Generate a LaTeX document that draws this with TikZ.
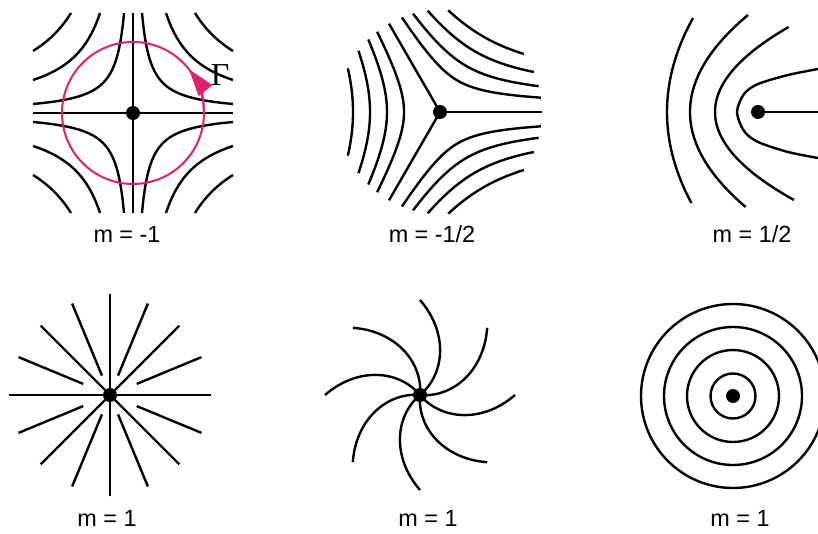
\documentclass[tikz,border=0pt]{standalone}
\usepackage{fontspec}
\setmainfont{Liberation Sans}
\newfontfamily\gammafont{Liberation Serif}
\usepackage{xcolor}
\usetikzlibrary{arrows.meta}
\definecolor{loopred}{RGB}{230,30,110}

\begin{document}
\begin{tikzpicture}[x=1pt, y=1pt,
    fieldline/.style={line width=2.4pt},
    core/.style={circle, fill=black, inner sep=0pt, minimum size=14pt},
    lbl/.style={anchor=base, font=\fontsize{23.4}{28}\selectfont}]
    \useasboundingbox (0,0) rectangle (818,533);

    % m = -1: axes plus hyperbolas x*y = c in every quadrant
    \begin{scope}[shift={(133,420)}]
        \draw[fieldline] (-100,0) -- (100,0);
        \draw[fieldline] (0,-100) -- (0,100);
        \foreach \c in {900,3300,6200} {
            \pgfmathsetmacro\T{ln(100/sqrt(\c))}
            \foreach \sx/\sy in {1/1,-1/1,-1/-1,1/-1}
                \draw[fieldline] plot[domain=-\T:\T, samples=40, smooth] ({\sx*sqrt(\c)*exp(\x)},{\sy*sqrt(\c)*exp(-\x)});
        }
        % Burgers loop
        \draw[loopred, line width=2pt] (0,0) circle[radius=71];
        \draw[loopred, line width=2pt, -{Triangle[length=27pt, width=17pt]}] (0:71) arc[start angle=0, end angle=38, radius=71];
        \node[core] (core1) at (0,0) {};
    \end{scope}
    \node[inner sep=0pt, font=\gammafont\fontsize{32}{32}\selectfont] (gamma) at (220,458) {Γ};

    % m = -1/2: three arms, curves r = C / sin(3phi/2)^(2/3) between them
    \begin{scope}[shift={(440,421)}]
        \foreach \a in {0,120,240}
            \draw[fieldline] (0,0) -- (\a:102);
        \foreach \a in {0,120,240}
            \foreach \C in {87,70,53,36} {
                \pgfmathsetmacro\p{asin((\C/102)^1.5)/1.5}
                \pgfmathsetmacro\q{120-\p}
                \draw[fieldline, rotate=\a] plot[domain=\p:\q, samples=50, smooth] (\x:{\C/(sin(1.5*\x))^(2/3)});
            }
        \node[core] (core2) at (0,0) {};
    \end{scope}

    % m = 1/2: one arm, nested curves opening to the right
    \begin{scope}[shift={(758,421)}]
        \draw[fieldline] (0,0) -- (60,0);
        \draw[fieldline] plot[smooth] coordinates {(60,43) (30,37) (0,28) (-14,18) (-21,0) (-14,-19) (0,-30) (30,-40) (60,-46)};
        \draw[fieldline] plot[domain=-88:85, samples=40, smooth] ({-43+0.0102*\x*\x},\x);
        \draw[fieldline] plot[domain=-95:97, samples=40, smooth] ({-68+0.00616*\x*\x},\x);
        \draw[fieldline] plot[domain=-91:94, samples=40, smooth] ({-91+0.00294*\x*\x},\x);
        \node[core] (core3) at (0,0) {};
    \end{scope}

    % m = 1: radial
    \begin{scope}[shift={(110,138)}]
        \draw[fieldline] (-101,0) -- (101,0);
        \draw[fieldline] (0,-101) -- (0,101);
        \foreach \a in {45,135,225,315}
            \draw[fieldline] (\a:7) -- (\a:98);
        \foreach \a in {22.5,157.5,202.5,337.5}
            \draw[fieldline] (\a:29) -- (\a:99);
        \foreach \a in {67.5,112.5,247.5,292.5}
            \draw[fieldline] (\a:21) -- (\a:99);
        \node[core] (core4) at (0,0) {};
    \end{scope}

    % m = 1: spiral
    \begin{scope}[shift={(420,138)}]
        \foreach \b in {0,45,...,315}
            \draw[fieldline] plot[domain=0:95, samples=30, smooth] ({\b-50+50*\x/95}:\x);
        \node[core] (core5) at (0,0) {};
    \end{scope}

    % m = 1: concentric
    \begin{scope}[shift={(733,137)}]
        \foreach \r in {22.5,46,69,92}
            \draw[fieldline] (0,0) circle[radius=\r];
        \node[core] (core6) at (0,0) {};
    \end{scope}

    % Labels
    \node[lbl] (lbl1) at (127,290) {m = -1};
    \node[lbl] (lbl2) at (432,290) {m = -1/2};
    \node[lbl] (lbl3) at (752,290) {m = 1/2};
    \node[lbl] (lbl4) at (107,7) {m = 1};
    \node[lbl] (lbl5) at (428,7) {m = 1};
    \node[lbl] (lbl6) at (740,7) {m = 1};
\end{tikzpicture}
\end{document}
